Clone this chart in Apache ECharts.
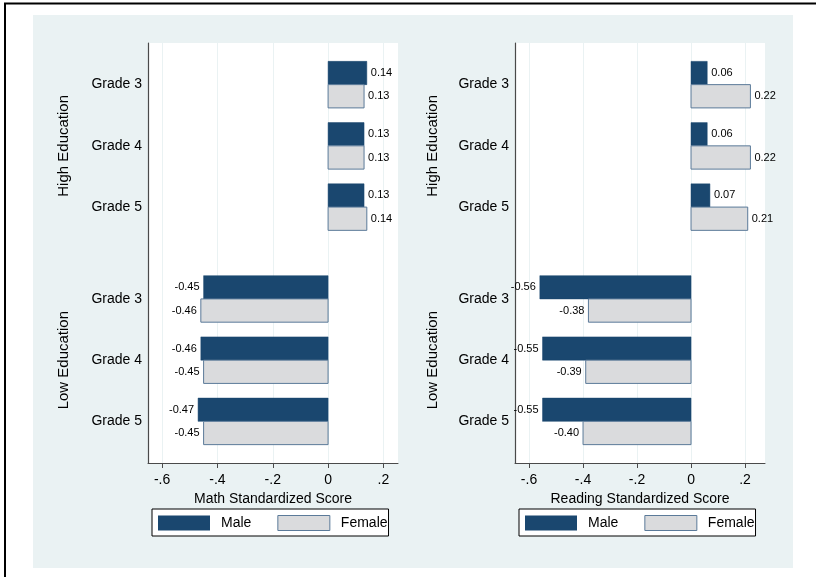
<!DOCTYPE html>
<html>
<head>
<meta charset="utf-8">
<script src="https://cdn.jsdelivr.net/npm/echarts@6/dist/echarts.min.js"></script>
<style>
  html, body { margin: 0; padding: 0; background: #fff; }
  #chart { width: 816px; height: 577px; }
</style>
</head>
<body>
<div id="chart"></div>
<script>
// Standardized scores by parental education and grade, split by sex
const groups = ['High Education', 'Low Education'];
const grades = ['Grade 3', 'Grade 4', 'Grade 5'];
const sexes = ['Male', 'Female'];

// order: High G3, G4, G5, Low G3, G4, G5
const mathMale    = [0.14, 0.13, 0.13, -0.45, -0.46, -0.47];
const mathFemale  = [0.13, 0.13, 0.14, -0.46, -0.45, -0.45];
const readMale    = [0.06, 0.06, 0.07, -0.56, -0.55, -0.55];
const readFemale  = [0.22, 0.22, 0.21, -0.38, -0.39, -0.40];

const xTicks = [-0.6, -0.4, -0.2, 0, 0.2];

// Row layout on the vertical value axis: one unit per grade,
// with an extra half unit between the two education groups.
const rowPos = [];
groups.forEach((g, gi) => grades.forEach((_, k) => rowPos.push(1 + k + gi * 3.5)));
const groupPos = groups.map((_, gi) => 2 + gi * 3.5);
const BAR_H = 0.38;

const NAVY = '#1A476F';
const GREY = '#DADBDD';
const GREY_EDGE = '#5b7a99';
const AXIS = '#4a4a4a';
const PANEL = '#EAF2F3';
const FONT = "'Liberation Sans', Arial, sans-serif";

function tickText(v) {
  if (v === 0) return '0';
  const s = String(Math.abs(v)).replace(/^0/, '');
  return (v < 0 ? '-' : '') + s;
}

function renderBar(params, api) {
  const v = api.value(0);
  const y = api.value(1);
  const side = api.value(2); // 0 = upper bar (Male), 1 = lower bar (Female)
  const y0 = side === 0 ? y - BAR_H : y;
  const y1 = side === 0 ? y : y + BAR_H;
  const a = api.coord([0, y0]);
  const b = api.coord([v, y1]);
  const x = Math.min(a[0], b[0]);
  const w = Math.abs(b[0] - a[0]);
  const top = Math.min(a[1], b[1]);
  const h = Math.abs(b[1] - a[1]);
  const isMale = side === 0;
  const label = (v < 0 ? '-' : '') + Math.abs(v).toFixed(2);
  return {
    type: 'group',
    children: [
      {
        type: 'rect',
        shape: { x: x, y: top, width: w, height: h },
        style: isMale
          ? { fill: NAVY, stroke: NAVY, lineWidth: 0.5 }
          : { fill: GREY, stroke: GREY_EDGE, lineWidth: 1 }
      },
      {
        type: 'text',
        style: {
          text: label,
          x: b[0] + (v >= 0 ? 4 : -4),
          y: top + h / 2,
          align: v >= 0 ? 'left' : 'right',
          verticalAlign: 'middle',
          font: '11px ' + FONT,
          fill: '#000'
        }
      }
    ]
  };
}

function barData(values, side) {
  return values.map((v, i) => [v, rowPos[i], side]);
}

function makeGrid(left) {
  return { left: left, top: 43, width: 250, height: 420, show: true,
           backgroundColor: '#fff', borderWidth: 0, containLabel: false };
}

function makeXAxis(gi, min, max, title) {
  return {
    type: 'value', gridIndex: gi, min: min, max: max,
    name: title, nameLocation: 'middle', nameGap: 20,
    nameTextStyle: { fontSize: 14, color: '#000', fontFamily: FONT },
    axisLine: { show: true, lineStyle: { color: AXIS, width: 1 } },
    axisTick: { show: true, length: 5, customValues: xTicks, lineStyle: { color: AXIS } },
    axisLabel: { customValues: xTicks, formatter: tickText, margin: 10,
                 fontSize: 14, color: '#000', fontFamily: FONT },
    splitLine: { show: true, lineStyle: { color: PANEL, width: 1 } }
  };
}

function makeYAxes(gi, groupMargin) {
  return [
    {
      type: 'value', gridIndex: gi, inverse: true, min: 0.32, max: 7.18,
      axisLine: { show: true, onZero: false, lineStyle: { color: AXIS, width: 1.2 } },
      axisTick: { show: false },
      splitLine: { show: false },
      axisLabel: {
        customValues: rowPos,
        formatter: (v) => grades[rowPos.indexOf(v) % 3],
        margin: 6, fontSize: 14, color: '#000', fontFamily: FONT,
        padding: [3, 0, 0, 0]
      }
    },
    {
      type: 'value', gridIndex: gi, inverse: true, min: 0.32, max: 7.18,
      position: 'left',
      axisLine: { show: false }, axisTick: { show: false }, splitLine: { show: false },
      axisLabel: {
        customValues: groupPos,
        formatter: (v) => groups[groupPos.indexOf(v)],
        rotate: 90, margin: groupMargin, fontSize: 15, color: '#000', fontFamily: FONT
      }
    }
  ];
}

function makeLegend(left) {
  return {
    left: left, top: 509, orient: 'horizontal',
    padding: [6, 1, 5, 6],
    borderColor: '#000', borderWidth: 1, backgroundColor: '#fff',
    itemWidth: 52, itemHeight: 15, itemGap: 26,
    icon: 'rect',
    selectedMode: false,
    textStyle: { fontSize: 14, color: '#000', fontFamily: FONT, padding: [0, 0, 0, 6] },
    data: [
      { name: 'Male', itemStyle: { color: NAVY, borderColor: NAVY, borderWidth: 0 } },
      { name: 'Female', itemStyle: { color: GREY, borderColor: GREY_EDGE, borderWidth: 1 } }
    ]
  };
}

function makeSeries(name, values, side, gi) {
  return {
    type: 'custom', name: name,
    xAxisIndex: gi, yAxisIndex: gi * 2,
    renderItem: renderBar,
    encode: { x: 0, y: 1 },
    itemStyle: side === 0 ? { color: NAVY } : { color: GREY, borderColor: GREY_EDGE },
    data: barData(values, side),
    clip: false,
    silent: true
  };
}

const chart = echarts.init(document.getElementById('chart'), null, { renderer: 'canvas' });

chart.setOption({
  backgroundColor: '#fff',
  animation: false,
  graphic: [
    { type: 'rect', z: -100, silent: true,
      shape: { x: 5, y: 3.5, width: 900, height: 900 },
      style: { fill: '#fff', stroke: '#000', lineWidth: 2 } },
    { type: 'rect', z: -99, silent: true,
      shape: { x: 33, y: 15, width: 760, height: 553 },
      style: { fill: PANEL } }
  ],
  grid: [makeGrid(148), makeGrid(515)],
  xAxis: [
    makeXAxis(0, -0.651, 0.2527, 'Math Standardized Score'),
    makeXAxis(1, -0.652, 0.274, 'Reading Standardized Score')
  ],
  yAxis: makeYAxes(0, 77).concat(makeYAxes(1, 75)),
  legend: [makeLegend(152), makeLegend(519)],
  series: [
    makeSeries(sexes[0], mathMale, 0, 0),
    makeSeries(sexes[1], mathFemale, 1, 0),
    makeSeries(sexes[0], readMale, 0, 1),
    makeSeries(sexes[1], readFemale, 1, 1)
  ]
});
</script>
</body>
</html>
